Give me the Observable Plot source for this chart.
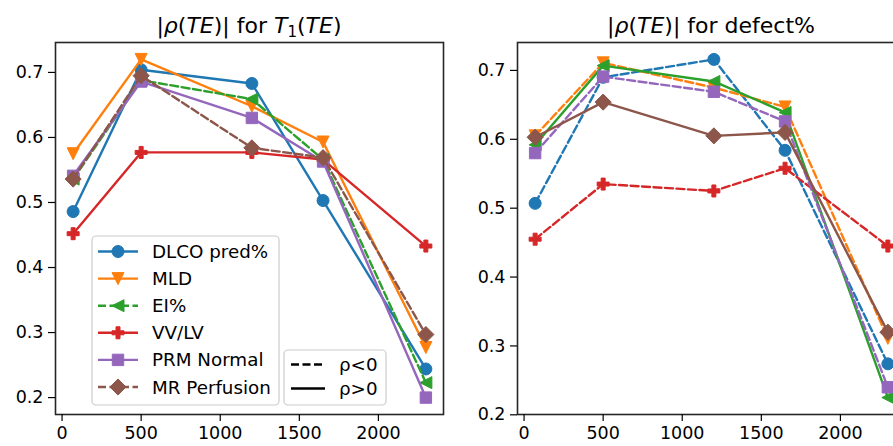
<!DOCTYPE html>
<html><head><meta charset="utf-8">
<script src="https://cdn.jsdelivr.net/npm/d3@7"></script>
<script src="https://cdn.jsdelivr.net/npm/@observablehq/plot@0.6"></script>
<style>
body{margin:0;background:#fff;}
#wrap{position:relative;width:893px;height:446px;overflow:hidden;background:#fff;font-family:"DejaVu Sans",sans-serif;}
#wrap svg{position:absolute;top:0;}
</style></head><body><div id="wrap"></div>
<script>
// ---- data ----
const te = [70, 500, 1200, 1650, 2300];
const seriesNames = ["DLCO pred%", "MLD", "EI%", "VV/LV", "PRM Normal", "MR Perfusion"];
const seriesColors = ["#1f77b4", "#ff7f0e", "#2ca02c", "#d62728", "#9467bd", "#8c564b"];

// |rho(TE)| for T1(TE)
const t1DLCO = [0.486, 0.704, 0.683, 0.503, 0.244];
const t1MLD  = [0.575, 0.720, 0.648, 0.593, 0.277];
const t1EI   = [0.536, 0.688, 0.659, 0.566, 0.223];
const t1VV   = [0.452, 0.577, 0.577, 0.566, 0.433];
const t1PRM  = [0.541, 0.686, 0.630, 0.563, 0.200];
const t1MR   = [0.536, 0.695, 0.584, 0.569, 0.297];
const t1Signs = ["pos", "pos", "neg", "pos", "pos", "neg"];

// |rho(TE)| for defect%
const defDLCO = [0.507, 0.690, 0.716, 0.584, 0.274];
const defMLD  = [0.605, 0.711, 0.675, 0.647, 0.311];
const defEI   = [0.592, 0.707, 0.684, 0.639, 0.225];
const defVV   = [0.455, 0.535, 0.525, 0.558, 0.445];
const defPRM  = [0.580, 0.691, 0.669, 0.626, 0.240];
const defMR   = [0.603, 0.654, 0.605, 0.610, 0.320];
const defSigns = ["neg", "neg", "pos", "neg", "neg", "pos"];

const xTicks = [0, 500, 1000, 1500, 2000];
const yTicks = [0.2, 0.3, 0.4, 0.5, 0.6, 0.7];
const signLabels = ["ρ<0", "ρ>0"];

// ---- marker symbols (matplotlib-like) ----
const rad = s => Math.sqrt(s / Math.PI);
const symCircle = {draw(c, s){const r = rad(s); c.moveTo(r, 0); c.arc(0, 0, r, 0, 2 * Math.PI);}};
const symTriDown = {draw(c, s){const h = rad(s); c.moveTo(0, h); c.lineTo(-h, -h); c.lineTo(h, -h); c.closePath();}};
const symTriLeft = {draw(c, s){const h = rad(s); c.moveTo(-h, 0); c.lineTo(h, -h); c.lineTo(h, h); c.closePath();}};
const symPlus = {draw(c, s){const h = rad(s), a = h / 3;
  const p = [[-a,-h],[a,-h],[a,-a],[h,-a],[h,a],[a,a],[a,h],[-a,h],[-a,a],[-h,a],[-h,-a],[-a,-a]];
  c.moveTo(...p[0]); for (const q of p.slice(1)) c.lineTo(...q); c.closePath();}};
const symSquare = {draw(c, s){const h = rad(s) * 0.95; c.rect(-h, -h, 2 * h, 2 * h);}};
const symDiamond = {draw(c, s){const d = rad(s) * 0.95 * Math.SQRT2; c.moveTo(0, -d); c.lineTo(d, 0); c.lineTo(0, d); c.lineTo(-d, 0); c.closePath();}};
const symbols = [symCircle, symTriDown, symTriLeft, symPlus, symSquare, symDiamond];

const DASH = "8,3.5";
const LW = 2.4;
const R = 6;

function pad(vals) {
  const lo = d3.min(vals), hi = d3.max(vals), m = (hi - lo) * 0.05;
  return [lo - m, hi + m];
}

function panel(valueArrays, signs, opts) {
  const all = valueArrays.flat();
  const marks = [];
  valueArrays.forEach((vals, k) => {
    const rows = vals.map((v, i) => ({te: te[i], rho: v, series: seriesNames[k]}));
    const dash = signs[k] === "neg" ? {strokeDasharray: DASH} : {};
    marks.push(Plot.line(rows, {x: "te", y: "rho", stroke: seriesColors[k], strokeWidth: LW, strokeLinejoin: "round", ...dash}));
    marks.push(Plot.dot(rows, {x: "te", y: "rho", r: R, symbol: symbols[k], fill: seriesColors[k], stroke: seriesColors[k], strokeWidth: 1}));
  });
  return Plot.plot({
    width: opts.width, height: 446,
    marginLeft: opts.marginLeft, marginRight: opts.marginRight, marginTop: 42, marginBottom: 32,
    style: {fontFamily: "DejaVu Sans", fontSize: "17.5px", color: "#000", background: "transparent", overflow: "visible"},
    x: {domain: pad(te)},
    y: {domain: pad(all)},
    marks: [
      ...marks,
      Plot.frame({stroke: "#262626", strokeWidth: 1.6}),
      Plot.axisX(xTicks, {tickSize: 7, tickPadding: 5, label: null, tickFormat: d3.format("d"), stroke: "#000", strokeWidth: 1.2}),
      Plot.axisY(yTicks, {tickSize: 7, tickPadding: 5, label: null, tickFormat: d3.format(".1f"), stroke: "#000", strokeWidth: 1.2})
    ]
  });
}

const wrap = document.getElementById("wrap");
const leftOpts = {width: 450, marginLeft: 55, marginRight: 7};
const rightOpts = {width: 455, marginLeft: 57, marginRight: 10, left: 460};
const p1 = panel([t1DLCO, t1MLD, t1EI, t1VV, t1PRM, t1MR], t1Signs, leftOpts);
p1.style.left = "0px";
wrap.appendChild(p1);
const p2 = panel([defDLCO, defMLD, defEI, defVV, defPRM, defMR], defSigns, rightOpts);
p2.style.left = rightOpts.left + "px";
wrap.appendChild(p2);

// ---- overlay: titles and legends ----
const ov = d3.create("svg").attr("width", 893).attr("height", 446)
  .style("left", "0px").style("font-family", "DejaVu Sans").style("pointer-events", "none");

function title(cx, parts) {
  const t = ov.append("text").attr("x", cx).attr("y", 33).attr("text-anchor", "middle").attr("font-size", 22).attr("fill", "#000");
  for (const p of parts) {
    const s = t.append("tspan").text(p.t);
    if (p.i) s.attr("font-style", "italic");
    if (p.sub) s.attr("font-size", 15).attr("dy", 4);
    if (p.up) s.attr("dy", -4);
  }
}
const rhoParts = [{t: "|"}, {t: "ρ", i: 1}, {t: "("}, {t: "TE", i: 1}, {t: ")|"}];
const lc = leftOpts.marginLeft + (leftOpts.width - leftOpts.marginLeft - leftOpts.marginRight) / 2;
const rc = rightOpts.left + rightOpts.marginLeft + (rightOpts.width - rightOpts.marginLeft - rightOpts.marginRight) / 2;
title(lc, [...rhoParts, {t: " for "}, {t: "T", i: 1}, {t: "1", sub: 1}, {t: "(", up: 1}, {t: "TE", i: 1}, {t: ")"}]);
title(rc, [...rhoParts, {t: " for defect%"}]);

// legend 1: series
const lg1 = ov.append("g");
lg1.append("rect").attr("x", 92).attr("y", 236).attr("width", 187).attr("height", 169).attr("rx", 4)
  .attr("fill", "#fff").attr("fill-opacity", 0.8).attr("stroke", "#ccc").attr("stroke-width", 1.2);
seriesNames.forEach((name, k) => {
  const y = 251.5 + k * 27.1;
  const ln = lg1.append("line").attr("x1", 98).attr("x2", 138).attr("y1", y).attr("y2", y)
    .attr("stroke", seriesColors[k]).attr("stroke-width", LW);
  if (t1Signs[k] === "neg") ln.attr("stroke-dasharray", DASH);
  lg1.append("path").attr("d", d3.symbol(symbols[k], Math.PI * R * R)()).attr("transform", `translate(118,${y})`)
    .attr("fill", seriesColors[k]).attr("stroke", seriesColors[k]).attr("stroke-width", 1);
  lg1.append("text").attr("x", 152).attr("y", y).attr("dy", "0.36em").attr("font-size", 18.3).attr("fill", "#000").text(name);
});

// legend 2: line style meaning
const lg2 = ov.append("g");
lg2.append("rect").attr("x", 284).attr("y", 350).attr("width", 102).attr("height", 55).attr("rx", 4)
  .attr("fill", "#fff").attr("fill-opacity", 0.8).attr("stroke", "#ccc").attr("stroke-width", 1.2);
signLabels.forEach((lab, k) => {
  const y = 364.5 + k * 24;
  const ln = lg2.append("line").attr("x1", 291).attr("x2", 325).attr("y1", y).attr("y2", y)
    .attr("stroke", "#000").attr("stroke-width", LW);
  if (k === 0) ln.attr("stroke-dasharray", DASH);
  lg2.append("text").attr("x", 339).attr("y", y).attr("dy", "0.36em").attr("font-size", 18.3).attr("fill", "#000").text(lab);
});

wrap.appendChild(ov.node());
</script></body></html>
